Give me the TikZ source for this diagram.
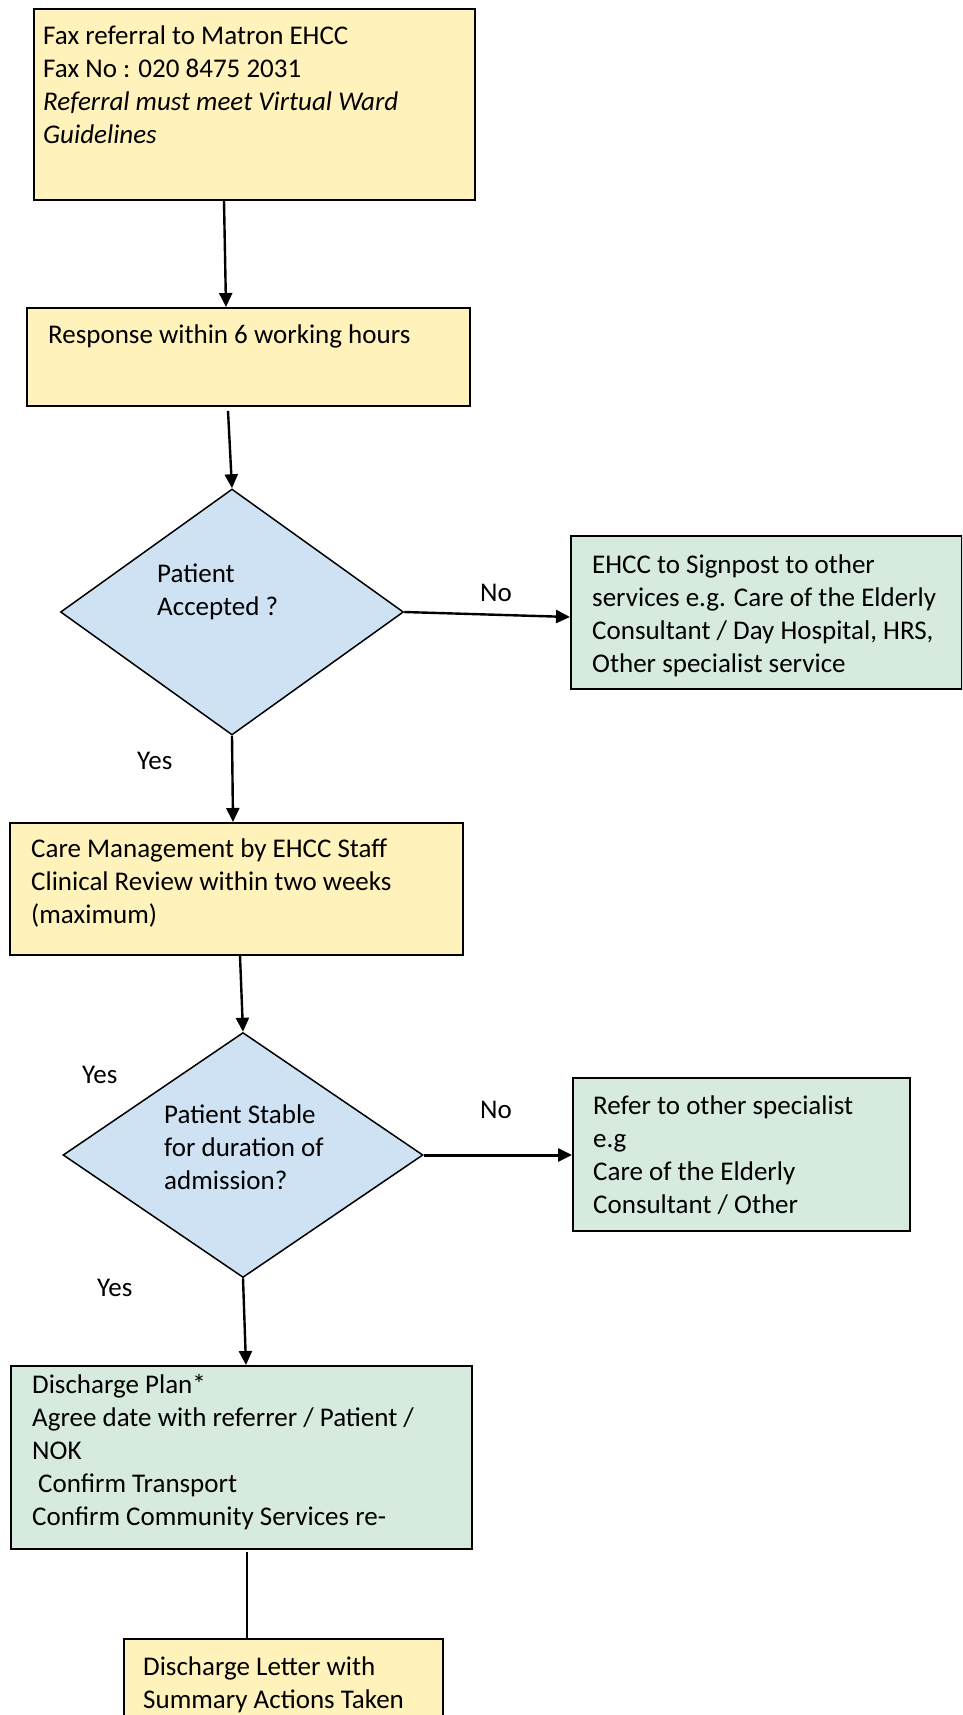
\documentclass[tikz,border=0pt]{standalone}
\usepackage{fontspec}
\setmainfont{Carlito}
\usetikzlibrary{shapes.geometric,arrows.meta,calc}
\definecolor{yellowc}{HTML}{FFF2BA}
\definecolor{bluec}{HTML}{CFE2F3}
\definecolor{greenc}{HTML}{D6EADE}
\newcommand\topstrut{\rule{0pt}{24pt}}
\tikzset{
  boxbase/.style={draw=black, line width=1.8pt, rectangle, inner sep=0pt, anchor=north west},
  ybox/.style={boxbase, fill=yellowc},
  gbox/.style={boxbase, fill=greenc},
  decision/.style={draw=black, line width=1.5pt, diamond, fill=bluec, inner sep=0pt},
  txt/.style={anchor=north west, inner sep=0pt, align=left, font=\fontsize{27}{33}\selectfont},
  conn/.style={line width=2.4pt, -{Triangle[length=14pt,width=13pt]}},
  plain/.style={line width=2.4pt}
}
\begin{document}
\begin{tikzpicture}[x=1pt,y=-1pt]
\useasboundingbox (0,0) rectangle (962,1715);
\clip (0,0) rectangle (962,1715);
% boxes
\node[ybox, minimum width=441pt, minimum height=191pt] (box1) at (33,8) {};
\node[ybox, minimum width=443pt, minimum height=98pt] (box2) at (26,307) {};
\node[decision, minimum width=343pt, minimum height=246pt] (d1) at (232,612) {};
\node[gbox, minimum width=391pt, minimum height=153pt] (g1) at (570,535) {};
\node[ybox, minimum width=453pt, minimum height=132pt] (box3) at (9,822) {};
\node[decision, minimum width=360pt, minimum height=245pt] (d2) at (243,1155) {};
\node[gbox, minimum width=337pt, minimum height=153pt] (g2) at (572,1077) {};
\node[gbox, minimum width=461pt, minimum height=183pt] (box4) at (10,1365) {};
\node[ybox, minimum width=319pt, minimum height=110pt] (box5) at (123,1638) {};
% texts
\node[txt] (t1) at (43,20) {\topstrut Fax referral to Matron EHCC\\Fax No : 020 8475 2031\\\textit{Referral must meet Virtual Ward}\\\textit{Guidelines}};
\node[txt] (t2) at (48,319) {\topstrut Response within 6 working hours};
\node[txt] (td1) at (157,558) {\topstrut Patient\\Accepted ?};
\node[txt] (no1) at (480,577) {\topstrut No};
\node[txt] (tg1) at (592,549) {\topstrut EHCC to Signpost to other\\services e.g. Care of the Elderly\\Consultant / Day Hospital, HRS,\\Other specialist service};
\node[txt] (yes1) at (137,745) {\topstrut Yes};
\node[txt] (t3) at (31,833) {\topstrut Care Management by EHCC Staff\\Clinical Review within two weeks\\(maximum)};
\node[txt] (yes2) at (82,1059) {\topstrut Yes};
\node[txt] (td2) at (164,1099) {\topstrut Patient Stable\\for duration of\\admission?};
\node[txt] (no2) at (480,1094) {\topstrut No};
\node[txt] (tg2) at (593,1090) {\topstrut Refer to other specialist\\e.g\\Care of the Elderly\\Consultant / Other};
\node[txt] (yes3) at (97,1272) {\topstrut Yes};
\node[txt] (t4) at (32,1369) {\topstrut Discharge Plan*\\Agree date with referrer / Patient /\\NOK\\\hspace*{6pt}Confirm Transport\\Confirm Community Services re-};
\node[txt] (t5) at (143,1651) {\topstrut Discharge Letter with\\Summary Actions Taken};
% connectors
\draw[conn] ([xshift=191pt]box1.south west) -- ([xshift=200pt]box2.north west);
\draw[conn] ([xshift=202pt,yshift=-4pt]box2.south west) -- (d1.north);
\draw[conn] (d1.east) -- ([yshift=-5pt]d1.east -| g1.west);
\draw[conn] (d1.south) -- ([xshift=224pt]box3.north west);
\draw[conn] ([xshift=231pt]box3.south west) -- (d2.north);
\draw[conn, line width=3pt] (d2.east) -- (d2.east -| g2.west);
\draw[conn] (d2.south) -- ([xshift=236pt]box4.north west);
\draw[plain] ([xshift=237pt,yshift=-2pt]box4.south west) -- ([xshift=124pt]box5.north west);
\end{tikzpicture}
\end{document}
